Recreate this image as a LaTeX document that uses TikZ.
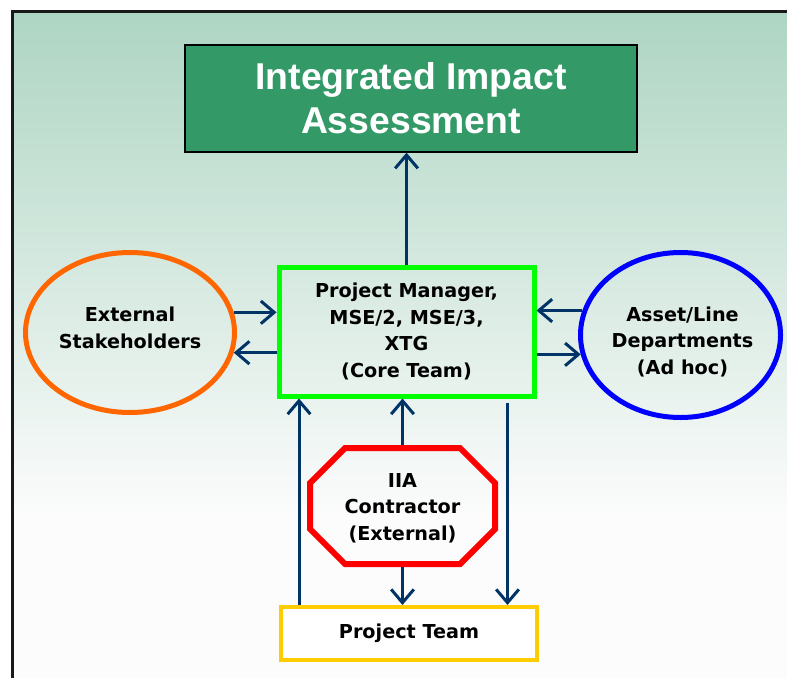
\documentclass[tikz,border=0pt]{standalone}
\usepackage{fontspec}
\setmainfont{DejaVu Sans}
\newfontfamily\titlefont{Liberation Sans}
\usetikzlibrary{calc}
\usetikzlibrary{arrows.meta}
\usetikzlibrary{shapes.geometric}

\definecolor{bgtop}{HTML}{AED5C3}
\definecolor{bgbot}{HTML}{FCFCFC}
\definecolor{iiagreen}{HTML}{339966}
\definecolor{arrownavy}{HTML}{003366}
\definecolor{coregreen}{HTML}{00FF00}
\definecolor{extorange}{HTML}{FF6600}
\definecolor{teamyellow}{HTML}{FFCC00}

\tikzset{
  flow/.style={draw=arrownavy, line width=2.25pt, -{Straight Barb[length=10pt,width=17pt]}},
  lbl/.style={align=center, text=black, font=\bfseries\fontsize{14.4}{19.8}\selectfont},
}

\begin{document}
\begin{tikzpicture}[x=0.75pt,y=-0.75pt]
\useasboundingbox (0,0) rectangle (787,678);

% background and frame
\shade[top color=bgtop, bottom color=bgbot] (14,12) rectangle (787,520);
\fill[bgbot] (14,520) rectangle (787,678);
\draw[line width=1.6pt, black!90] (12.5,678) -- (12.5,11.5) -- (787,11.5);

\node[draw=black, line width=1pt, fill=iiagreen, minimum width=339pt, minimum height=80.25pt,
  align=center, text=white, font=\titlefont\bfseries\fontsize{28}{33}\selectfont] (assess) at (411,98.5) {Integrated Impact\\Assessment};

\node[lbl, draw=coregreen, line width=3.75pt, minimum width=191.25pt, minimum height=96.75pt] (core) at (406.5,331.5) {Project Manager,\\MSE/2, MSE/3,\\XTG\\(Core Team)};

\node[ellipse, draw=extorange, line width=3.75pt, minimum width=156.75pt, minimum height=120pt,
  label={[lbl, yshift=3.5pt]center:{External\\Stakeholders}}] (ext) at (130,332.5) {};

\node[ellipse, draw=blue, line width=3.75pt, minimum width=150pt, minimum height=123.75pt,
  label={[lbl, xshift=1.5pt, yshift=-5pt]center:{Asset/Line\\Departments\\(Ad hoc)}}] (asset) at (680.5,335) {};

% octagon drawn round the contractor text
\node[lbl, outer sep=0pt, minimum width=143.25pt, minimum height=91.5pt] (contractor) at (402.5,508) {IIA\\Contractor\\(External)};
\draw[red, line width=4.5pt, line join=miter] (contractor.center) ++(-57.5,-60) -- ++(115,0) -- ++(35,35) -- ++(0,46)
  -- ++(-35,35) -- ++(-115,0) -- ++(-35,-35) -- ++(0,-46) -- cycle;

\node[lbl, draw=teamyellow, fill=white, line width=3pt, minimum width=192pt, minimum height=39.75pt] (team) at (409,633.5) {Project Team};

% connectors
\draw[flow] (core.north) -- (core.north |- assess.south);

\draw[flow] (ext.11) -- (ext.11 -| core.west);
\draw[flow] (core.west |- ext.-11) -- (ext.-11);

\draw[flow] (asset.166) -- (asset.166 -| core.east);
\draw[flow] (core.east |- asset.191) -- (asset.191);

\draw[flow] (contractor.north) ++(0,-2) -- (contractor.north |- core.south);
\draw[flow] (contractor.south) ++(0,-2) -- (contractor.south |- team.north);

\coordinate (upleft) at ($(team.north west)+(20,0)$);
\draw[flow] (upleft) -- (upleft |- core.south);
\coordinate (downright) at ($(core.south east)+(-29,4)$);
\draw[flow] (downright) -- (downright |- team.north);

\end{tikzpicture}
\end{document}
